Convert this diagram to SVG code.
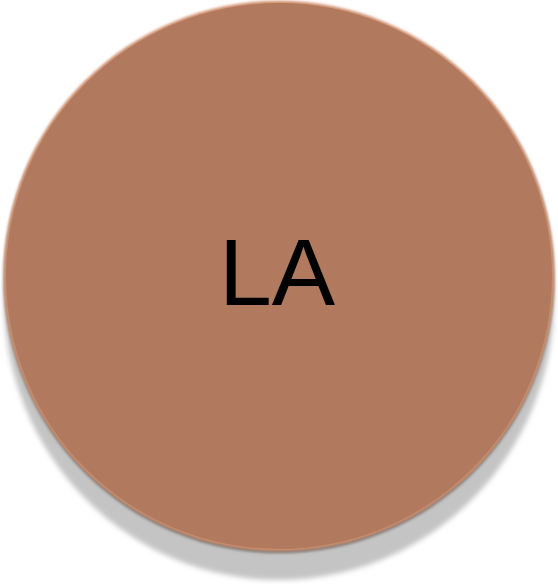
<svg xmlns="http://www.w3.org/2000/svg" width="558" height="584" viewBox="0 0 558 584">
<defs>
<filter id="blur" x="-10%" y="-10%" width="120%" height="120%"><feGaussianBlur stdDeviation="2.5"/></filter>
<filter id="edge" x="-10%" y="-10%" width="120%" height="120%"><feGaussianBlur stdDeviation="1.5"/></filter>
<style>
.lbl{font-family:"Liberation Sans",Arial,sans-serif;font-size:95px;fill:#000}
</style>
</defs>
<rect width="558" height="584" fill="#fff"/>
<g id="node-LA">
<ellipse cx="279" cy="300" rx="275" ry="280" fill="#c4c4c4" filter="url(#blur)"/>
<circle cx="279" cy="278" r="275" fill="#6e6e6e" filter="url(#edge)"/>
<circle cx="279" cy="276" r="275" fill="#d8926c" filter="url(#edge)"/>
<circle cx="279" cy="276" r="273" fill="#b17a5e"/>
<text class="lbl" x="277" y="305" text-anchor="middle">LA</text>
</g>
<g id="connectors"/>
</svg>
